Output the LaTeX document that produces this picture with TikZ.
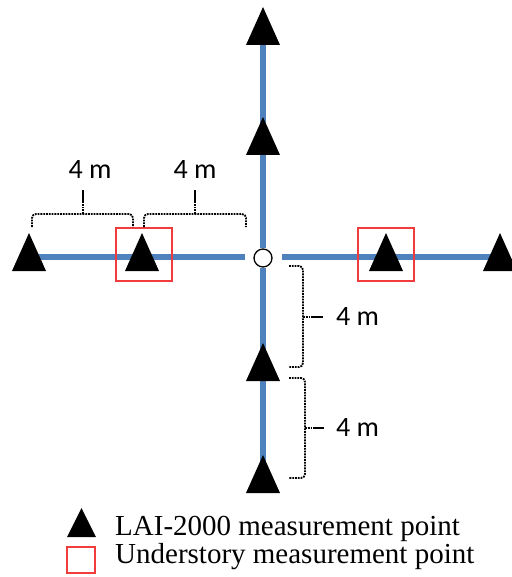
\documentclass[tikz,border=0pt]{standalone}
\usepackage{fontspec}
\setmainfont{Liberation Serif}
\newfontfamily\labfont{Carlito}
\usepackage{tikz}
\usetikzlibrary{arrows.meta,calc}

\definecolor{armblue}{HTML}{4F81BD}
\definecolor{sqred}{HTML}{F03C3C}

\tikzset{
  pics/lai/.style={code={\fill[black] (-17,19) -- (17,19) -- (0,-19) -- cycle;}},
  arm/.style={line width=6.5pt,armblue},
  brace/.style={line width=1.8pt,densely dotted,rounded corners=4pt},
  sq/.style={draw=sqred,line width=1.3pt},
  dist/.style={font=\labfont\fontsize{28}{32}\selectfont,inner sep=0pt},
  legtext/.style={font=\fontsize{29}{34}\selectfont,anchor=base west,inner sep=0pt}
}

\begin{document}
\begin{tikzpicture}[x=1pt,y=-1pt]
\useasboundingbox (0,0) rectangle (511,577);

% measurement points along the two transects
\coordinate (c) at (263,258);
\coordinate (w2) at (29,257);
\coordinate (w1) at (142,257);
\coordinate (e1) at (386,257);
\coordinate (e2) at (500,257);
\coordinate (n2) at (263,26);
\coordinate (n1) at (263,136);
\coordinate (s1) at (263,362);
\coordinate (s2) at (263,474);

\draw[arm] (w2) -- (245,257);
\draw[arm] (282,257) -- (e2);
\draw[arm] (n2) -- (263,248);
\draw[arm] (263,268) -- (s2);
\draw[line width=1.3pt,fill=white] (c) circle (9);

\foreach \p in {w2,w1,e1,e2} \pic at ($(\p)+(0,-5)$) {lai};
\foreach \p in {n2,n1,s1,s2} \pic at (\p) {lai};

\draw[sq] (116,228) rectangle (172,281);
\draw[sq] (358,228) rectangle (414,281);

% distance braces
\draw[brace] (32,227) -- (32,214) -- (133,214) -- (133,227);
\draw[line width=1.8pt,densely dotted] (83,214) -- (83,203);
\draw[line width=1.6pt] (83,203) -- (83,190);
\node[dist] (d1) at (90,170) {4 m};
\draw[brace] (144,227) -- (144,214) -- (246,214) -- (246,227);
\draw[line width=1.8pt,densely dotted] (195,214) -- (195,203);
\draw[line width=1.6pt] (195,203) -- (195,190);
\node[dist] (d2) at (195,170) {4 m};

\draw[brace] (289,266) -- (303,266) -- (303,367) -- (289,367);
\draw[line width=1.8pt,densely dotted] (303,317) -- (312,317);
\draw[line width=1.6pt] (312,317) -- (323,317);
\node[dist,anchor=west] (d3) at (336,317) {4 m};
\draw[brace] (289,378) -- (305,378) -- (305,478) -- (289,478);
\draw[line width=1.8pt,densely dotted] (305,428) -- (313,428);
\draw[line width=1.6pt] (313,428) -- (324,428);
\node[dist,anchor=west] (d4) at (336,428) {4 m};

% legend
\fill[black] (67,537) -- (96,537) -- (81.5,508) -- cycle;
\draw[sq] (67,547) rectangle (95,573);
\node[legtext] (l1) at (115,535) {LAI-2000 measurement point};
\node[legtext] (l2) at (115,563) {Understory measurement point};
\end{tikzpicture}
\end{document}
